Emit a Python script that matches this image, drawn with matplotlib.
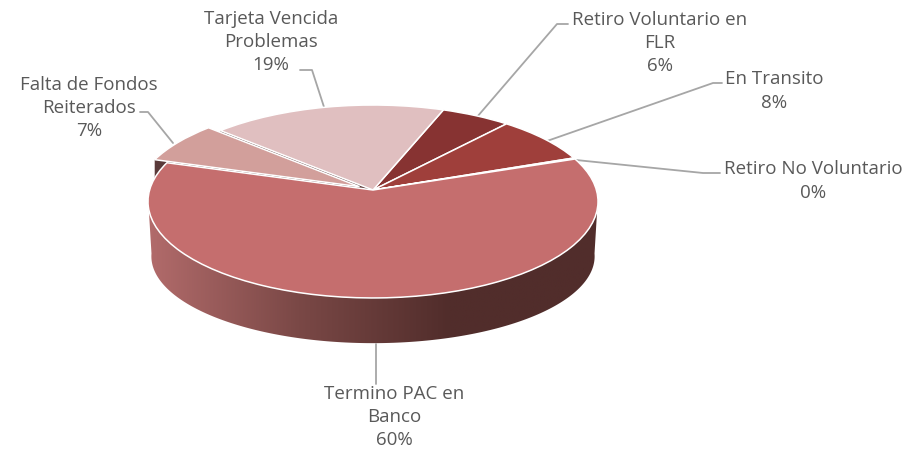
import numpy as np
import matplotlib
matplotlib.use('Agg')
import matplotlib.pyplot as plt
from matplotlib.colors import LinearSegmentedColormap
from matplotlib.patches import Polygon
from matplotlib.transforms import Transform

# datos
categorias = ['Retiro Voluntario en\nFLR', 'En Transito', 'Retiro No Voluntario',
              'Termino PAC en\nBanco', 'Falta de Fondos\nReiterados', 'Tarjeta Vencida\nProblemas']
valores = [5.6, 8.0, 0.2, 60.3, 7.0, 18.9]
colores = ['#873332', '#9f3f3b', '#b85a58', '#c56e6e', '#d29f9b', '#e0bfc0']
separacion = [0, 0, 0, 0, 0.07, 0]

# posicion de etiquetas (px) y lineas guia (px)
pos_etiquetas = [(660, 43), (774, 91), (813, 181), (394, 417), (89, 108), (271, 42)]
guias = [
    [(477, 117), (557, 24), (568, 24)],
    [(547, 141), (713, 83), (722, 83)],
    [(576, 160), (703, 173), (720, 173)],
    [(376, 344), (376, 384)],
    [(140, 112), (148, 112), (173, 143)],
    [(300, 70), (312, 70), (324, 107)],
]

CX, CY = 373, 190
A, B, P = 223.4, 95.1, 0.119


def proyectar(x, y):
    # perspectiva del disco: lo de atras se ve mas chico
    d = 1 + P * y
    return CX + A * x / d, CY - B * y / d


def borde(w, angulo):
    # punta y extremo de un gajo, ya proyectados
    ox, oy = w.center
    a = np.radians(angulo)
    return proyectar(ox, oy), proyectar(ox + w.r * np.cos(a), oy + w.r * np.sin(a))


class Inclinado(Transform):
    input_dims = 2
    output_dims = 2
    is_affine = False

    def transform_non_affine(self, xy):
        xy = np.asarray(xy, dtype=float)
        px, py = proyectar(xy[:, 0], xy[:, 1])
        return np.column_stack([px, py])


fig = plt.figure(figsize=(9.1, 4.5), dpi=100)
ax = fig.add_axes([0, 0, 1, 1])
wedges, _ = ax.pie(valores, colors=colores, explode=separacion, startangle=69.5, counterclock=False,
                   wedgeprops={'edgecolor': 'white', 'linewidth': 1.1})
inclinado = Inclinado() + ax.transData
for i, w in enumerate(wedges):
    w.set_transform(inclinado)
    w.set_zorder(5 if i != 3 else 6)
    w.set_clip_on(False)

# pared lateral con degradado
t = np.radians(np.linspace(185, 355, 200))
xa, ya = proyectar(np.cos(t), np.sin(t))
xb = CX + (xa - CX) * 0.985
yb = ya * 0.9 + 75
pared = Polygon(np.column_stack([np.r_[xa, xb[::-1]], np.r_[ya, yb[::-1]]]), closed=True,
                facecolor='none', edgecolor='none', transform=ax.transData)
ax.add_patch(pared)
cmap = LinearSegmentedColormap.from_list('pared', ['#b26b6b', '#7a4846', '#512d2b', '#512d2b'])
grad = np.linspace(0, 1, 256).reshape(1, -1)
im = ax.imshow(grad, cmap=cmap, extent=(148, 600, 350, 190), aspect='auto', zorder=2)
im.set_clip_path(pared)

# caras oscuras de los cortes (Falta de Fondos y Tarjeta)
for w in (wedges[4], wedges[5]):
    (x0, y0), (x1, y1) = borde(w, w.theta2)
    ax.add_patch(Polygon([(x0, y0), (x1, y1), (x1, y1 + 45), (x0, y0 + 45)], closed=True,
                         facecolor='#5a3a3a', edgecolor='none', zorder=3))

for trazo in guias:
    xs, ys = zip(*trazo)
    ax.plot(xs, ys, color='#a6a6a6', lw=1.3, zorder=4, solid_capstyle='round')

for nombre, valor, (x, y) in zip(categorias, valores, pos_etiquetas):
    ax.text(x, y, f'{nombre}\n{round(valor)}%', ha='center', va='center', fontsize=13.5,
            family='Open Sans', color='#595959', linespacing=1.38, zorder=7)

ax.set_xlim(0, 910)
ax.set_ylim(450, 0)
ax.set_aspect('auto')
ax.axis('off')
fig.savefig('out.png', dpi=100)
